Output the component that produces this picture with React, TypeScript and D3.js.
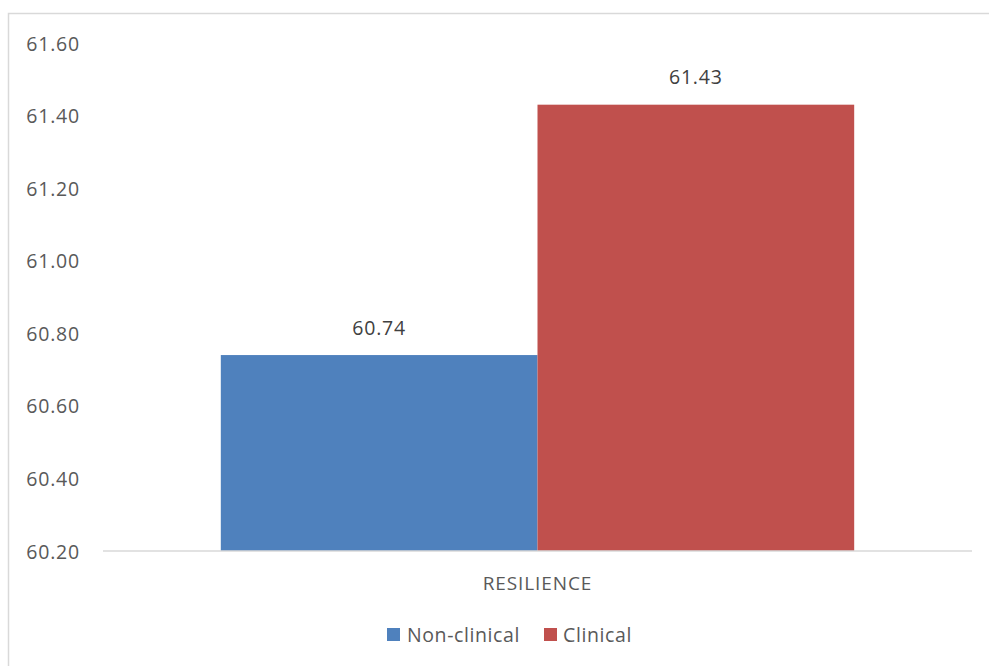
import React from "react";
import * as d3 from "d3";

const categories = ["RESILIENCE"];
const seriesNames = ["Non-clinical", "Clinical"];
const seriesValues = [60.74, 61.43];
const seriesColors = ["#4F81BD", "#C0504D"];
const yTicks = [60.2, 60.4, 60.6, 60.8, 61.0, 61.2, 61.4, 61.6];

const W = 989;
const H = 666;
const plot = { left: 103, right: 972, top: 43, bottom: 551 };
const FONT = "'Open Sans', 'Noto Sans', sans-serif";

export default function App() {
  const y = d3.scaleLinear().domain([60.2, 61.6]).range([plot.bottom, plot.top]);
  const xCat = d3
    .scaleBand<string>()
    .domain(categories)
    .range([plot.left, plot.right])
    .paddingOuter(0.186)
    .paddingInner(0);
  const xSeries = d3
    .scaleBand<string>()
    .domain(seriesNames)
    .range([0, xCat.bandwidth()])
    .padding(0);

  return (
    <svg
      width={W}
      height={H}
      style={{ position: "absolute", left: 0, top: 0, background: "#fff" }}
      fontFamily={FONT}
    >
      <rect x={8.5} y={13.5} width={W + 10} height={H + 10} fill="#fff" stroke="#d9d9d9" strokeWidth={1.5} />

      {yTicks.map((t) => (
        <text
          key={t}
          x={80}
          y={y(t)}
          textAnchor="end"
          dominantBaseline="central"
          fontSize={19.5}
          fill="#595959"
          letterSpacing={0.8}
        >
          {d3.format(".2f")(t)}
        </text>
      ))}

      {categories.map((c) =>
        seriesNames.map((s, i) => {
          const x0 = (xCat(c) ?? 0) + (xSeries(s) ?? 0);
          const v = seriesValues[i];
          return (
            <g key={c + s}>
              <rect
                x={x0}
                y={y(v)}
                width={xSeries.bandwidth()}
                height={plot.bottom - y(v)}
                fill={seriesColors[i]}
              />
              <text
                x={x0 + xSeries.bandwidth() / 2}
                y={y(v) - 28}
                textAnchor="middle"
                dominantBaseline="central"
                fontSize={19.5}
                fill="#404040"
                letterSpacing={0.8}
              >
                {d3.format(".2f")(v)}
              </text>
            </g>
          );
        })
      )}

      <line x1={plot.left} x2={plot.right} y1={plot.bottom} y2={plot.bottom} stroke="#d9d9d9" strokeWidth={1.5} />

      {categories.map((c) => (
        <text
          key={c}
          x={(xCat(c) ?? 0) + xCat.bandwidth() / 2}
          y={583}
          textAnchor="middle"
          dominantBaseline="central"
          fontSize={19}
          fill="#595959"
          letterSpacing={0.9}
        >
          {c}
        </text>
      ))}

      <g>
        <rect x={387} y={628} width={13} height={13} fill={seriesColors[0]} />
        <text x={407} y={634.5} dominantBaseline="central" fontSize={19.5} fill="#595959" letterSpacing={0.6}>
          {seriesNames[0]}
        </text>
        <rect x={544} y={628} width={13} height={13} fill={seriesColors[1]} />
        <text x={563} y={634.5} dominantBaseline="central" fontSize={19.5} fill="#595959" letterSpacing={0.6}>
          {seriesNames[1]}
        </text>
      </g>
    </svg>
  );
}
